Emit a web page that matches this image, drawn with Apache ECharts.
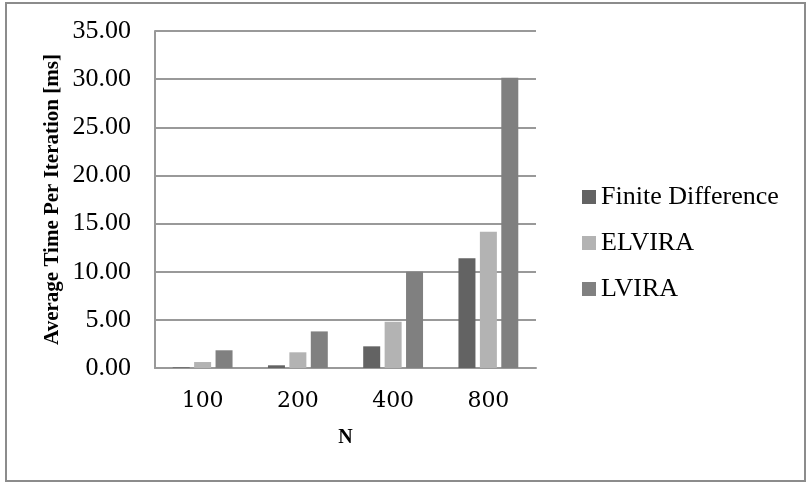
<!DOCTYPE html>
<html>
<head>
<meta charset="utf-8">
<script src="https://cdn.jsdelivr.net/npm/echarts@6/dist/echarts.min.js"></script>
<style>
  html, body { margin: 0; padding: 0; background: #fff; }
  #main { width: 807px; height: 482px; }
</style>
</head>
<body>
<div id="main"></div>
<script>
const categories = ["100", "200", "400", "800"];
const finiteDifference = [0.07, 0.28, 2.25, 11.4];
const elvira = [0.62, 1.63, 4.8, 14.15];
const lvira = [1.84, 3.8, 10.0, 30.15];
const yTicks = [0, 5, 10, 15, 20, 25, 30, 35];

const serif = "'Liberation Serif', 'DejaVu Serif', serif";

const chart = echarts.init(document.getElementById("main"));

const barSeries = (name, data, color) => ({
  name: name,
  type: "bar",
  data: data,
  barWidth: 17,
  barGap: "26%",
  itemStyle: { color: color },
});

chart.setOption({
  animation: false,
  graphic: [
    {
      type: "rect",
      shape: { x: 6, y: 3, width: 799, height: 478 },
      style: { fill: "none", stroke: "#8c8c8c", lineWidth: 2 },
    },
  ],
  grid: {
    left: 155,
    top: 31,
    right: 271,
    bottom: 114,
    containLabel: false,
  },
  legend: {
    orient: "vertical",
    left: 577,
    top: 179,
    itemWidth: 14,
    itemHeight: 14,
    itemGap: 20,
    itemTextGap: 7,
    icon: "rect",
    textStyle: { fontFamily: serif, fontSize: 26, lineHeight: 26, color: "#000" },
    data: ["Finite Difference", "ELVIRA", "LVIRA"],
  },
  xAxis: {
    type: "category",
    data: categories,
    name: "N",
    nameLocation: "middle",
    nameGap: 60,
    nameTextStyle: { fontFamily: serif, fontSize: 20, fontWeight: "bold", color: "#000" },
    axisLine: { lineStyle: { color: "#999", width: 2 } },
    axisTick: { show: false },
    axisLabel: { fontFamily: "'DejaVu Serif', serif", fontSize: 22, color: "#000", margin: 22 },
  },
  yAxis: {
    type: "value",
    min: yTicks[0],
    max: yTicks[yTicks.length - 1],
    interval: 5,
    name: "Average Time Per Iteration [ms]",
    nameLocation: "middle",
    nameGap: 92,
    nameTextStyle: { fontFamily: serif, fontSize: 21, fontWeight: "bold", color: "#000" },
    axisLine: { show: true, lineStyle: { color: "#999", width: 2 } },
    axisTick: { show: false },
    axisLabel: {
      fontFamily: serif,
      fontSize: 26,
      color: "#000",
      margin: 24,
      formatter: (v) => v.toFixed(2),
    },
    splitLine: { lineStyle: { color: "#999", width: 2 } },
  },
  series: [
    barSeries("Finite Difference", finiteDifference, "#636363"),
    barSeries("ELVIRA", elvira, "#b3b3b3"),
    barSeries("LVIRA", lvira, "#808080"),
  ],
});
</script>
</body>
</html>
